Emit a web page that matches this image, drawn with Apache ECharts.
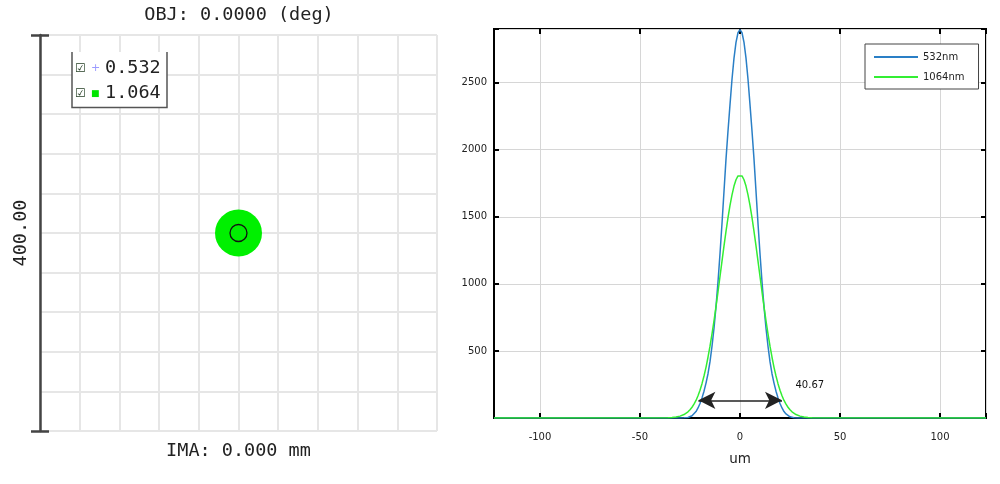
<!DOCTYPE html>
<html><head><meta charset="utf-8">
<script src="https://cdn.jsdelivr.net/npm/echarts@6/dist/echarts.min.js"></script>
<style>html,body{margin:0;padding:0;background:#fff}#c{width:1000px;height:484px}</style>
</head><body><div id="c"></div>
<script>
// ---- data ----
const umX = [-123,-36,-35,-34,-33,-32,-31,-30,-29,-28,-27,-26,-25,-24,-23,-22,-21,-20,-19,-18,-17,-16,-15,-14,-13,-12,-11,-10,-9,-8,-7,-6,-5,-4,-3,-2,-1,0,1,2,3,4,5,6,7,8,9,10,11,12,13,14,15,16,17,18,19,20,21,22,23,24,25,26,27,28,29,30,31,32,33,34,35,36,123];
const irr532 = [0,0,0,0,0,0,0,0,0,1,2,4,9,17,30,48,75,108,150,200,260,330,420,535,670,830,1015,1225,1450,1690,1930,2140,2336,2525,2683,2800,2872,2895,2872,2800,2683,2525,2336,2140,1930,1690,1450,1225,1015,830,670,535,420,330,260,200,150,108,75,48,30,17,9,4,2,1,0,0,0,0,0,0,0,0,0];
const irr1064 = [0,1,2,3,5,7,10,14,19,26,35,46,61,80,103,131,166,207,256,313,378,453,535,627,725,831,941,1055,1170,1283,1391,1493,1585,1664,1729,1776,1805,1815,1805,1776,1729,1664,1585,1493,1391,1283,1170,1055,941,831,725,627,535,453,378,313,256,207,166,131,103,80,61,46,35,26,19,14,10,7,5,3,2,1,0];
const profileNames = ['532nm', '1064nm'];
const spotWavelengths = ['0.532', '1.064'];
const spotCenter = [[0, 0]];
const xTickLabels = [-100, -50, 0, 50, 100];
const yTickLabels = [500, 1000, 1500, 2000, 2500];
const widthText = '40.67';
const widthArrow = [[-20.8, 132], [21.0, 132]];
const widthTextAt = [34.9, 244];
const spotTitle = 'OBJ: 0.0000 (deg)';
const spotImage = 'IMA: 0.000 mm';
const spotScale = '400.00';

const mono = 'DejaVu Sans Mono';
const sans = 'DejaVu Sans';
const chart = echarts.init(document.getElementById('c'), null, {renderer: 'canvas'});
const pair = (xs, ys) => xs.map((x, i) => [x, ys[i]]);

const option = {
  animation: false,
  backgroundColor: '#fff',
  title: {
    text: spotTitle, left: 234, top: 1, textAlign: 'center',
    textStyle: {fontFamily: mono, fontSize: 18.5, fontWeight: 'normal', color: '#222'}
  },
  graphic: [
    {type: 'rect', z: 5, shape: {x: 72, y: 52, width: 95, height: 55.5}, style: {fill: '#fff'}},
    {type: 'polyline', z: 5, shape: {points: [[72, 52], [72, 107.5], [167, 107.5], [167, 52]]},
     style: {stroke: '#555', lineWidth: 1.5, fill: null}}
  ],
  legend: [
    {
      data: spotWavelengths, orient: 'vertical', left: 70, top: 59, padding: 0,
      icon: 'none', itemWidth: 0, itemHeight: 18, itemGap: 6, selectedMode: false, z: 6,
      formatter: name => (spotWavelengths.indexOf(name) === 0
        ? '{cb|\u2611}{pl|+}{t|' + name + '}'
        : '{cb|\u2611}{sq|\u25A0}{t|' + name + '}'),
      textStyle: {
        rich: {
          cb: {fontFamily: sans, fontSize: 12, color: '#1f3a1f', width: 16, lineHeight: 18},
          pl: {fontFamily: sans, fontSize: 11, color: '#9a9aff', width: 14, lineHeight: 18},
          sq: {fontFamily: sans, fontSize: 9, color: '#00e600', width: 14, lineHeight: 18},
          t: {fontFamily: mono, fontSize: 18.5, color: '#222', lineHeight: 18}
        }
      }
    },
    {
      data: profileNames, orient: 'vertical', left: 865, top: 44, padding: [6, 14, 5, 9],
      icon: 'rect', itemWidth: 44, itemHeight: 2, itemGap: 6, selectedMode: false,
      borderColor: '#444', borderWidth: 1, backgroundColor: '#fff',
      textStyle: {fontFamily: sans, fontSize: 10, color: '#222', lineHeight: 14}
    }
  ],
  grid: [
    {left: 40, top: 35, width: 397, height: 396},
    {left: 494, top: 29, width: 492, height: 389, show: true, borderColor: '#000', borderWidth: 2}
  ],
  xAxis: [
    {gridIndex: 0, type: 'value', min: -200, max: 200, interval: 40,
     axisLine: {show: false, onZero: false}, axisTick: {show: false}, axisLabel: {show: false},
     splitLine: {show: true, lineStyle: {color: '#e6e6e6', width: 2}},
     name: spotImage, nameLocation: 'middle', nameGap: 11,
     nameTextStyle: {fontFamily: mono, fontSize: 18.5, color: '#222'}},
    {gridIndex: 1, type: 'value', min: -123, max: 123, position: 'bottom',
     axisLine: {show: true, onZero: false, lineStyle: {color: '#000', width: 2}},
     axisTick: {show: true, inside: true, length: 5, lineStyle: {color: '#000', width: 2}},
     axisLabel: {formatter: v => (xTickLabels.includes(v) ? String(v) : ''), fontFamily: sans, fontSize: 10, color: '#222', margin: 14},
     splitLine: {show: true, lineStyle: {color: '#d6d6d6', width: 1}},
     name: 'um', nameLocation: 'middle', nameGap: 34,
     nameTextStyle: {fontFamily: sans, fontSize: 13.5, color: '#222'}},
    {gridIndex: 1, type: 'value', min: -123, max: 123, position: 'top',
     axisLine: {show: false, onZero: false}, axisLabel: {show: false}, splitLine: {show: false},
     axisTick: {show: true, inside: true, length: 5, lineStyle: {color: '#000', width: 2}}}
  ],
  yAxis: [
    {gridIndex: 0, type: 'value', min: -200, max: 200, interval: 40,
     axisLine: {show: false, onZero: false}, axisTick: {show: false}, axisLabel: {show: false},
     splitLine: {show: true, lineStyle: {color: '#e6e6e6', width: 2}}},
    {gridIndex: 0, type: 'value', min: 0, max: 400, interval: 400, position: 'left',
     axisLine: {show: true, onZero: false, lineStyle: {color: '#444', width: 2.5}},
     axisTick: {show: true, length: 9, lineStyle: {color: '#444', width: 2.5}},
     axisLabel: {show: false}, splitLine: {show: false},
     name: spotScale, nameLocation: 'middle', nameRotate: 90, nameGap: 9,
     nameTextStyle: {fontFamily: mono, fontSize: 18.5, color: '#222'}},
    {gridIndex: 0, type: 'value', min: 0, max: 400, interval: 400, position: 'left',
     axisLine: {show: false, onZero: false},
     axisTick: {show: true, inside: true, length: 9, lineStyle: {color: '#444', width: 2.5}},
     axisLabel: {show: false}, splitLine: {show: false}},
    {gridIndex: 1, type: 'value', min: 0, max: 2900, interval: 500, position: 'left',
     axisLine: {show: true, onZero: false, lineStyle: {color: '#000', width: 2}},
     axisTick: {show: true, inside: true, length: 5, lineStyle: {color: '#000', width: 2}},
     axisLabel: {formatter: v => (yTickLabels.includes(v) ? String(v) : ''), fontFamily: sans, fontSize: 10, color: '#222', margin: 7},
     splitLine: {show: true, lineStyle: {color: '#d6d6d6', width: 1}}},
    {gridIndex: 1, type: 'value', min: 0, max: 2900, interval: 500, position: 'right',
     axisLine: {show: false, onZero: false}, axisLabel: {show: false}, splitLine: {show: false},
     axisTick: {show: true, inside: true, length: 5, lineStyle: {color: '#000', width: 2}}}
  ],
  series: [
    {name: spotWavelengths[0], type: 'scatter', xAxisIndex: 0, yAxisIndex: 0, silent: true,
     data: spotCenter, symbol: 'path://M2,0H3V2H5V3H3V5H2V3H0V2H2Z', symbolSize: 5,
     itemStyle: {color: '#9a9aff'}},
    {name: spotWavelengths[1], type: 'scatter', xAxisIndex: 0, yAxisIndex: 0, silent: true,
     data: spotCenter, symbol: 'circle', symbolSize: 47, itemStyle: {color: '#00f000', opacity: 1}},
    {name: 'Airy', type: 'scatter', xAxisIndex: 0, yAxisIndex: 0, silent: true,
     data: spotCenter, symbol: 'circle', symbolSize: 17,
     itemStyle: {color: 'rgba(0,0,0,0)', borderColor: '#111', borderWidth: 1.3, opacity: 1}},
    {name: profileNames[0], type: 'line', xAxisIndex: 1, yAxisIndex: 3, silent: true,
     data: pair(umX, irr532), symbol: 'none', smooth: false,
     lineStyle: {color: '#2a7fc6', width: 1.5}, itemStyle: {color: '#2a7fc6'}},
    {name: profileNames[1], type: 'line', xAxisIndex: 1, yAxisIndex: 3, silent: true,
     data: pair(umX, irr1064), symbol: 'none', smooth: false,
     lineStyle: {color: '#33ee33', width: 1.5}, itemStyle: {color: '#33ee33'},
     markLine: {silent: true, symbol: ['arrow', 'arrow'], symbolSize: [13, 17],
       lineStyle: {color: '#222', width: 1.5, type: 'solid'}, label: {show: false},
       data: [[{coord: widthArrow[0]}, {coord: widthArrow[1]}]]},
     markPoint: {silent: true, symbol: 'circle', symbolSize: 0,
       label: {show: true, position: 'inside', formatter: widthText, fontFamily: sans, fontSize: 10, color: '#111'},
       data: [{coord: widthTextAt}]}}
  ]
};
chart.setOption(option);
</script></body></html>
